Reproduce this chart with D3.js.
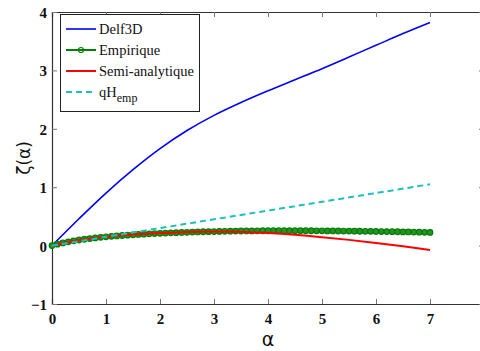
<!DOCTYPE html>
<html><head><meta charset="utf-8">
<script src="https://cdn.jsdelivr.net/npm/d3@7"></script>
<style>body{margin:0;background:#fff;}svg{display:block;}</style>
</head><body>
<script>
// ---- data ----
const xTicks = [0,1,2,3,4,5,6,7];
const xTickMarks = [0,1,2,3,4,5,6,7,8];
const yTicks = [-1,0,1,2,3,4];
const seriesNames = ["Delf3D","Empirique","Semi-analytique","qH"];
const delftX = [0,0.5,1,1.5,2,2.5,3,3.5,4,4.5,5,5.5,6,6.5,7];
const delftY = [0,0.46,0.9,1.3,1.66,1.97,2.23,2.45,2.65,2.84,3.03,3.23,3.43,3.63,3.82];
const semiX = [0,0.5,1,1.5,2,2.5,3,3.5,4,4.5,5,5.5,6,6.5,7];
const semiY = [0,0.09,0.15,0.19,0.215,0.235,0.243,0.235,0.215,0.185,0.145,0.098,0.045,-0.012,-0.075];
const qhX = [0,1,2,3,4,5,6,7];
const qhY = [0,0.15,0.30,0.45,0.60,0.75,0.90,1.05];
const empStep = 0.1;
const empY = [0.000,0.024,0.045,0.064,0.081,0.096,0.109,0.121,0.132,0.142,
0.151,0.159,0.166,0.173,0.179,0.185,0.191,0.196,0.201,0.206,
0.210,0.214,0.218,0.222,0.225,0.228,0.231,0.234,0.237,0.239,
0.241,0.243,0.245,0.247,0.248,0.250,0.251,0.252,0.253,0.254,
0.254,0.255,0.255,0.255,0.255,0.255,0.255,0.254,0.254,0.253,
0.253,0.252,0.251,0.250,0.249,0.248,0.247,0.246,0.245,0.244,
0.242,0.241,0.240,0.238,0.237,0.235,0.234,0.232,0.230,0.228,0.226];

const W = 480, H = 351;
const m = {left:52, top:12, right:484, bottom:304};
const SERIF = "Liberation Serif";
const SANS = "DejaVu Sans";
const svg = d3.select("body").append("svg").attr("width",W).attr("height",H)
  .attr("font-family",SERIF);
const x = d3.scaleLinear().domain([0,8]).range([m.left,m.right]);
const y = d3.scaleLinear().domain([-1,4]).range([m.bottom,m.top]);

// axes
const axB = svg.append("g").attr("transform",`translate(0,${m.bottom})`)
  .call(d3.axisBottom(x).tickValues(xTicks).tickSize(-5).tickPadding(9).tickFormat(d3.format("d")));
const axT = svg.append("g").attr("transform",`translate(0,${m.top})`)
  .call(d3.axisTop(x).tickValues(xTickMarks).tickSize(-5).tickFormat(""));
const axL = svg.append("g").attr("transform",`translate(${m.left},0)`)
  .call(d3.axisLeft(y).tickValues(yTicks).tickSize(-5).tickPadding(5).tickFormat(d3.format("d")));
const axR = svg.append("g").attr("transform",`translate(${m.right},0)`)
  .call(d3.axisRight(y).tickValues(yTicks).tickSize(-5).tickFormat(""));
[axB,axT,axL,axR].forEach(a=>{
  a.attr("font-family",SERIF).attr("font-size",15);
  a.select(".domain").attr("stroke","#333").attr("stroke-width",1.2);
  a.selectAll(".tick line").attr("stroke","#777").attr("stroke-width",1);
  a.selectAll("text").attr("font-family",SERIF).attr("font-size",15).attr("font-weight","bold").attr("fill","#111");
});
axL.selectAll(".tick text").attr("dy","0.36em");

const line = d3.line().x(d=>x(d[0])).y(d=>y(d[1])).curve(d3.curveCatmullRom);
const zip = (a,b)=>a.map((v,i)=>[v,b[i]]);
const empData = empY.map((v,i)=>[i*empStep,v]);

svg.append("path").attr("d",line(zip(delftX,delftY))).attr("fill","none").attr("stroke","#0000ff").attr("stroke-width",1.6);
svg.append("path").attr("d",line(empData)).attr("fill","none").attr("stroke","#008000").attr("stroke-width",2);
svg.append("g").selectAll("circle").data(empData).join("circle")
  .attr("cx",d=>x(d[0])).attr("cy",d=>y(d[1])).attr("r",2.8)
  .attr("fill","#2a8f2a").attr("stroke","#008000").attr("stroke-width",1.2);
svg.append("path").attr("d",line(zip(semiX,semiY))).attr("fill","none").attr("stroke","#ff0000").attr("stroke-width",2);
svg.append("path").attr("d",line(zip(qhX,qhY))).attr("fill","none").attr("stroke","#1fbfbf").attr("stroke-width",2).attr("stroke-dasharray","6,4");

// legend
const lg = svg.append("g");
lg.append("rect").attr("x",60.5).attr("y",14.5).attr("width",139).attr("height",97)
  .attr("fill","#fff").attr("stroke","#222").attr("stroke-width",1);
const ly = [29,50,71,92];
const styles = [
  {c:"#0000ff",w:1.6,dash:null,mk:false},
  {c:"#008000",w:2,dash:null,mk:true},
  {c:"#ff0000",w:2,dash:null,mk:false},
  {c:"#1fbfbf",w:2,dash:"6,4",mk:false}];
styles.forEach((s,i)=>{
  lg.append("line").attr("x1",66).attr("x2",96).attr("y1",ly[i]).attr("y2",ly[i])
    .attr("stroke",s.c).attr("stroke-width",s.w).attr("stroke-dasharray",s.dash);
  if(s.mk) lg.append("circle").attr("cx",81).attr("cy",ly[i]).attr("r",2.5).attr("fill","none").attr("stroke",s.c).attr("stroke-width",1.2);
  const t = lg.append("text").attr("x",99).attr("y",ly[i]+5).attr("font-family",SERIF).attr("font-size",14.5).attr("fill","#111");
  t.text(seriesNames[i]);
  if(i===3) t.append("tspan").attr("dy",5).attr("font-size",12).text("emp");
});

// axis labels
svg.append("text").attr("x",268).attr("y",346).attr("text-anchor","middle")
  .attr("font-family",SANS).attr("font-size",19).attr("fill","#111").text("α");
svg.append("text").attr("transform","translate(30,158) rotate(-90)").attr("text-anchor","middle")
  .attr("font-family",SANS).attr("font-size",17).attr("fill","#111").text("ζ(α)");
</script>
</body></html>
